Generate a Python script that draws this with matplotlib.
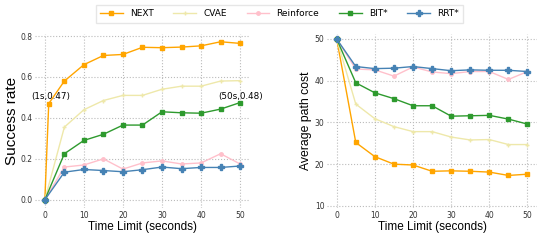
import numpy as np
import matplotlib
matplotlib.use('Agg')
import matplotlib.pyplot as plt

# time limits (seconds)
t_next = [0, 1, 5, 10, 15, 20, 25, 30, 35, 40, 45, 50]
t = [0, 5, 10, 15, 20, 25, 30, 35, 40, 45, 50]

# success rate
sr_next = [0, 0.47, 0.58, 0.66, 0.705, 0.71, 0.745, 0.743, 0.746, 0.752, 0.772, 0.764]
sr_cvae = [0, 0.355, 0.44, 0.485, 0.51, 0.51, 0.54, 0.555, 0.555, 0.58, 0.582]
sr_reinforce = [0, 0.16, 0.17, 0.2, 0.15, 0.18, 0.19, 0.175, 0.18, 0.225, 0.175]
sr_bit = [0, 0.225, 0.29, 0.32, 0.365, 0.365, 0.43, 0.425, 0.423, 0.443, 0.475]
sr_rrt = [0, 0.135, 0.148, 0.143, 0.137, 0.147, 0.16, 0.152, 0.158, 0.158, 0.165]

# average path cost
pc_next = [50, 25.2, 21.8, 20.0, 19.8, 18.3, 18.4, 18.3, 18.1, 17.3, 17.6]
pc_cvae = [50, 34.4, 30.9, 29.0, 27.8, 27.8, 26.5, 25.8, 25.9, 24.7, 24.7]
pc_reinforce = [50, 42.8, 42.6, 41.1, 43.3, 42.1, 41.7, 42.2, 42.2, 40.3, 42.2]
pc_bit = [50, 39.5, 37.1, 35.7, 34.0, 34.0, 31.5, 31.6, 31.7, 30.8, 29.6]
pc_rrt = [50, 43.4, 42.9, 43.0, 43.4, 42.9, 42.4, 42.6, 42.5, 42.5, 42.2]

names = ['NEXT', 'CVAE', 'Reinforce', 'BIT*', 'RRT*']
colors = ['#FFA500', '#EEE8AA', '#FFC0CB', '#2E9A2E', '#4682B4']
markers = ['s', '+', 'o', 's', 'P']
msizes = [3.5, 3, 2.5, 2.5, 4]

fig = plt.figure(figsize=(5.48, 2.41), dpi=100)
ax1 = fig.add_axes([0.064, 0.137, 0.392, 0.722])
ax2 = fig.add_axes([0.597, 0.137, 0.383, 0.722])


def style(ax):
    for s in ax.spines.values():
        s.set_visible(False)
    ax.grid(True, linestyle=':', color='#bbbbbb', linewidth=0.8)
    ax.tick_params(length=0, labelsize=5.5, pad=2, labelcolor='#333333')
    ax.set_xticks(range(0, 51, 10))
    ax.set_xlabel('Time Limit (seconds)', family='Liberation Sans', fontsize=8.5, labelpad=1)


sr = [sr_next, sr_cvae, sr_reinforce, sr_bit, sr_rrt]
pc = [pc_next, pc_cvae, pc_reinforce, pc_bit, pc_rrt]
for i in range(5):
    x = t_next if i == 0 else t
    ax1.plot(x, sr[i], color=colors[i], marker=markers[i], markersize=msizes[i],
             linewidth=1, label=names[i])
    ax2.plot(t, pc[i], color=colors[i], marker=markers[i], markersize=msizes[i],
             linewidth=1)

style(ax1)
style(ax2)
ax1.set_yticks(np.arange(0, 0.81, 0.2))
ax1.set_ylim(-0.04, 0.81)
ax1.set_ylabel('Success rate', family='Liberation Sans', fontsize=11, labelpad=1)
ax1.annotate('(1s,0.47)', xy=(1, 0.47), xytext=(-3.6, 0.49), fontsize=6.3)
ax1.annotate('(50s,0.48)', xy=(50, 0.475), xytext=(44.3, 0.49), fontsize=6.3,
             annotation_clip=False)

ax2.set_yticks(range(10, 51, 10))
ax2.set_ylim(9.5, 51.2)
ax2.set_ylabel('Average path cost', family='Liberation Sans', fontsize=8.8, labelpad=2)

fig.legend(loc='upper center', ncol=5, bbox_to_anchor=(0.51, 1.0), fontsize=6.5,
           frameon=True, fancybox=False, edgecolor='#e0e0e0', handlelength=2.5,
           columnspacing=2.2, borderpad=0.5)

fig.savefig('out.png', dpi=100)
